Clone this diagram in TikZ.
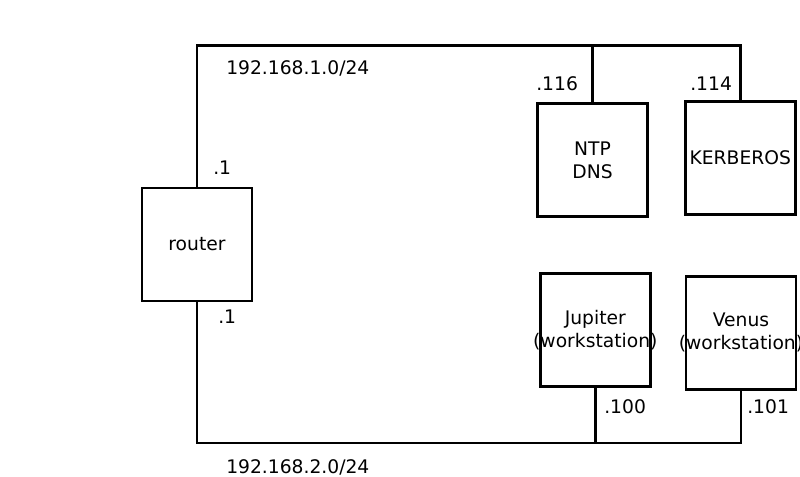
\documentclass[tikz,border=0pt]{standalone}
\usepackage{fontspec}
\setmainfont{DejaVu Sans}

\begin{document}
\begin{tikzpicture}[x=0.025cm, y=-0.025cm,
	every node/.style={font=\fontsize{13.3pt}{16.4pt}\selectfont},
	host/.style={draw, line width=1.95pt, minimum width=2.75cm, minimum height=2.825cm,
	             inner sep=0pt, align=center},
	lan/.style={line width=2.1pt},
	addr/.style={anchor=base west, inner sep=0pt}]
	
	\useasboundingbox (0,0) rectangle (800,476);
	
	% Hosts
	\node[host] (router)   at (197,244.5) {router};
	\node[host] (ntp)      at (592.5,160) {NTP\\DNS};
	\node[host] (kerberos) at (740.3,157.7) {KERBEROS};
	\node[host, label={[align=center]center:Jupiter\\(workstation)}] (jupiter) at (595.3,329.8) {};
	\node[host, label={[align=center]center:Venus\\(workstation)}]   (venus)   at (741,332.7) {};
	
	% Networks
	\coordinate (net1) at (197,45.3);
	\coordinate (net2) at (197,443);
	
	\draw[lan] (router.north) -- (net1) -| (kerberos.north);
	\draw[lan] (ntp.north) -- (ntp.north |- net1);
	\draw[lan] (router.south) -- (net2) -| (venus.south);
	\draw[lan] (jupiter.south) -- (jupiter.south |- net2);
	
	% Addresses
	\node[addr] (net1addr) at (226,74)  {192.168.1.0/24};
	\node[addr] (net2addr) at (226,473) {192.168.2.0/24};
	\node[addr] (router1)  at (213,174) {.1};
	\node[addr] (router2)  at (218,323) {.1};
	\node[addr] (ntpaddr)  at (536,90)  {.116};
	\node[addr] (kerbaddr) at (690,90)  {.114};
	\node[addr] (jupaddr)  at (604,413) {.100};
	\node[addr] (venaddr)  at (747,413) {.101};
	
\end{tikzpicture}
\end{document}
